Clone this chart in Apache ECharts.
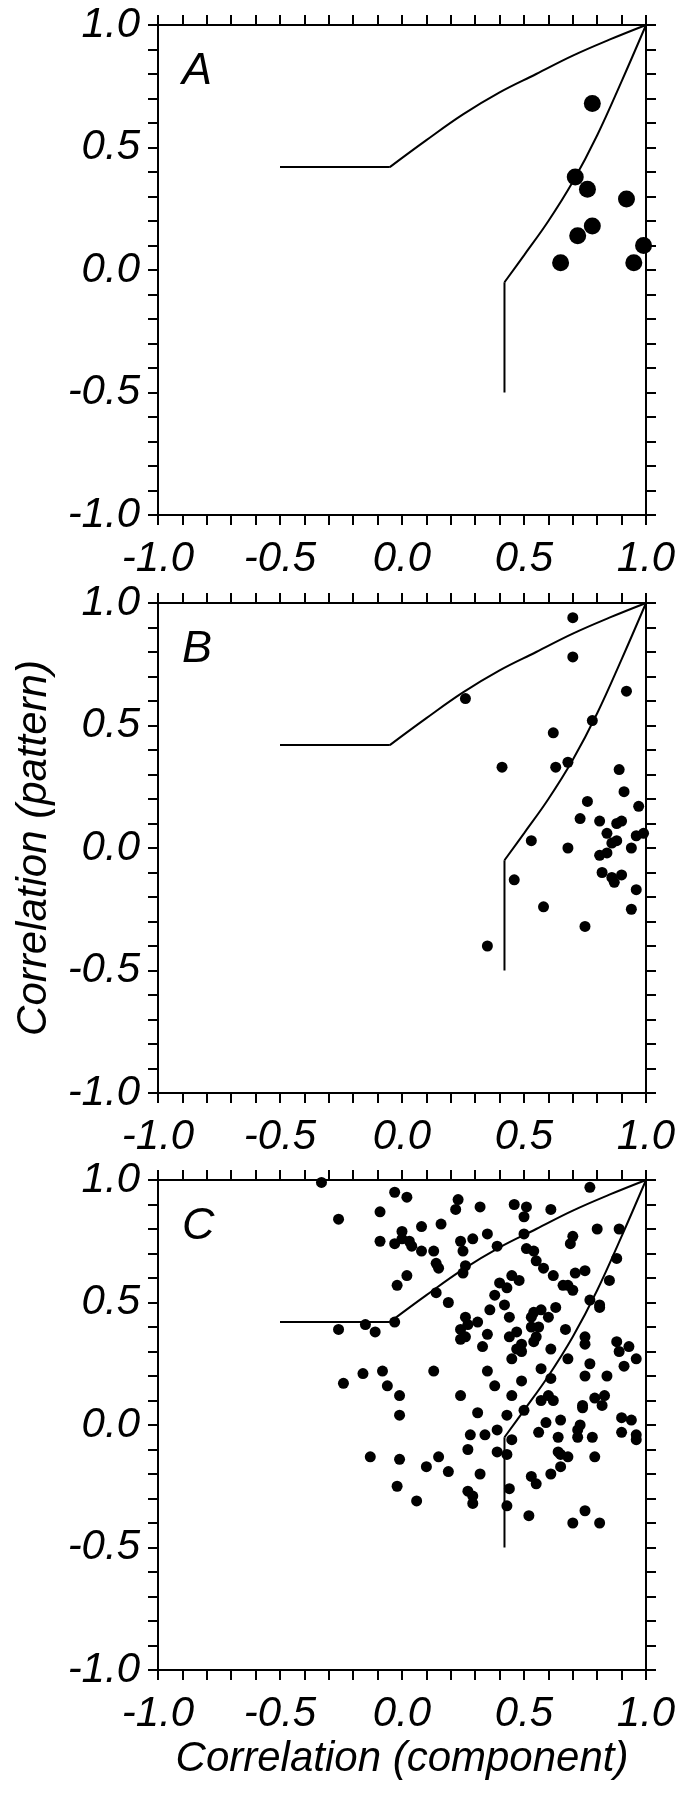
<!DOCTYPE html>
<html>
<head>
<meta charset="utf-8">
<script src="https://cdn.jsdelivr.net/npm/echarts@6/dist/echarts.min.js"></script>
<style>
  html, body { margin: 0; padding: 0; background: #fff; }
  #chart { width: 690px; height: 1800px; }
</style>
</head>
<body>
<div id="chart"></div>
<script>
// panel labels
const panelNames = ["A", "B", "C"];

// bounding lines (same in every panel): straight legs + curved parts
const upperFlat = [[-0.5, 0.42], [-0.05, 0.42]];
const upperCurve = [[-0.05, 0.42], [0.1, 0.53], [0.25, 0.635], [0.4, 0.725],
  [0.55, 0.80], [0.7, 0.875], [0.85, 0.94], [1, 1]];
const lowerFlat = [[0.42, -0.5], [0.42, -0.05]];
const lowerCurve = [[0.42, -0.05], [0.5, 0.06], [0.6, 0.2], [0.7, 0.36],
  [0.8, 0.55], [0.9, 0.77], [1, 1]];

// points: [component, pattern]
const pointsA = [[0.78, 0.68], [0.71, 0.38], [0.76, 0.33], [0.92, 0.29], [0.78, 0.18],
  [0.72, 0.14], [0.65, 0.03], [0.95, 0.03], [0.99, 0.10]];

const pointsB = [[0.70, 0.94], [0.70, 0.78], [0.26, 0.61], [0.92, 0.64], [0.78, 0.52],
  [0.62, 0.47], [0.41, 0.33], [0.63, 0.33], [0.68, 0.35], [0.89, 0.32], [0.91, 0.23],
  [0.76, 0.19], [0.97, 0.17], [0.73, 0.12], [0.81, 0.11], [0.88, 0.10], [0.90, 0.11],
  [0.84, 0.06], [0.96, 0.05], [0.99, 0.06], [0.53, 0.03], [0.88, 0.03], [0.86, 0.02],
  [0.68, 0.00], [0.94, 0.00], [0.81, -0.03], [0.84, -0.02], [0.82, -0.10], [0.90, -0.11],
  [0.86, -0.12], [0.87, -0.14], [0.46, -0.13], [0.96, -0.17], [0.58, -0.24], [0.94, -0.25],
  [0.75, -0.32], [0.35, -0.40]];

const pointsC = [[-0.33, 0.99], [0.77, 0.97], [-0.03, 0.95], [0.02, 0.93], [0.23, 0.92],
  [0.22, 0.88], [0.32, 0.89], [0.46, 0.90], [0.51, 0.89], [0.50, 0.85], [0.61, 0.88],
  [-0.09, 0.87], [-0.26, 0.84], [0.16, 0.82], [0.08, 0.81], [0.00, 0.79], [0.80, 0.80],
  [0.89, 0.80], [0.35, 0.78], [0.50, 0.78], [-0.09, 0.75], [-0.03, 0.74], [0.00, 0.76],
  [0.03, 0.75], [0.04, 0.73], [0.08, 0.71], [0.24, 0.75], [0.29, 0.76], [0.25, 0.71],
  [0.39, 0.73], [0.13, 0.71], [0.51, 0.72], [0.54, 0.71], [0.70, 0.77], [0.69, 0.74],
  [0.88, 0.68], [0.14, 0.66], [0.15, 0.64], [0.55, 0.67], [0.26, 0.65], [0.25, 0.62],
  [0.58, 0.64], [0.71, 0.62], [0.75, 0.63], [0.62, 0.61], [0.85, 0.59], [0.02, 0.61],
  [-0.02, 0.57], [0.45, 0.61], [0.48, 0.59], [0.40, 0.58], [0.43, 0.56], [0.66, 0.57],
  [0.68, 0.57], [0.70, 0.55], [0.38, 0.53], [0.14, 0.54], [0.77, 0.51], [0.81, 0.49],
  [0.81, 0.48], [0.19, 0.50], [0.42, 0.49], [0.36, 0.47], [0.63, 0.48], [0.57, 0.47],
  [0.54, 0.46], [0.60, 0.44], [0.53, 0.44], [0.44, 0.44], [0.26, 0.44], [-0.03, 0.42],
  [-0.15, 0.41], [0.27, 0.41], [0.31, 0.42], [-0.26, 0.39], [-0.11, 0.38], [0.24, 0.39],
  [0.56, 0.40], [0.53, 0.40], [0.35, 0.37], [0.47, 0.38], [0.67, 0.39], [0.75, 0.36],
  [0.24, 0.35], [0.26, 0.36], [0.44, 0.36], [0.55, 0.36], [0.54, 0.34], [0.49, 0.33],
  [0.33, 0.32], [0.47, 0.31], [0.49, 0.30], [0.61, 0.31], [0.88, 0.34], [0.93, 0.32],
  [0.89, 0.30], [0.75, 0.33], [0.45, 0.27], [0.68, 0.27], [0.96, 0.27], [0.57, 0.23],
  [0.77, 0.25], [0.91, 0.24], [0.13, 0.22], [0.35, 0.22], [-0.08, 0.22], [-0.16, 0.21],
  [0.75, 0.20], [0.84, 0.20], [0.61, 0.19], [-0.24, 0.17], [-0.06, 0.16], [0.38, 0.16],
  [0.49, 0.18], [-0.01, 0.12], [0.24, 0.12], [0.45, 0.12], [0.60, 0.12], [0.62, 0.10],
  [0.83, 0.12], [0.79, 0.11], [0.74, 0.08], [0.82, 0.08], [0.57, 0.10], [0.74, 0.07],
  [-0.01, 0.04], [0.31, 0.05], [0.43, 0.04], [0.50, 0.06], [0.59, 0.01], [0.65, 0.02],
  [0.73, 0.00], [0.90, 0.03], [0.94, 0.02], [0.28, -0.04], [0.34, -0.04], [0.39, -0.02],
  [0.56, -0.03], [0.72, -0.02], [0.72, -0.05], [0.78, -0.05], [0.90, -0.03], [0.96, -0.04],
  [0.96, -0.06], [0.45, -0.06], [0.64, -0.05], [0.27, -0.10], [0.39, -0.11], [0.43, -0.12],
  [0.64, -0.11], [0.65, -0.12], [0.68, -0.13], [0.79, -0.13], [-0.13, -0.13], [-0.01, -0.14],
  [0.10, -0.17], [0.15, -0.13], [0.19, -0.19], [0.32, -0.20], [0.61, -0.20], [0.65, -0.17],
  [0.53, -0.21], [0.55, -0.24], [-0.02, -0.25], [0.44, -0.26], [0.27, -0.27], [0.29, -0.29],
  [0.29, -0.32], [0.06, -0.31], [0.43, -0.33], [0.52, -0.37], [0.75, -0.35], [0.70, -0.40],
  [0.81, -0.40]];

const allPoints = [pointsA, pointsB, pointsC];
const dotSize = [17, 11, 11];
const gridTops = [25, 603, 1180];
const FONT = "'Liberation Sans', Arial, Helvetica, sans-serif";

const black = { color: "#000", width: 2 };

function makeAxis(i, position, withLabels) {
  return {
    type: "value",
    gridIndex: i,
    position: position,
    min: -1,
    max: 1,
    interval: 0.5,
    axisLine: { show: true, onZero: false, lineStyle: black },
    axisTick: { show: true, inside: false, length: 10, lineStyle: black },
    minorTick: { show: true, splitNumber: 5, length: 10, lineStyle: black },
    splitLine: { show: false },
    minorSplitLine: { show: false },
    axisLabel: {
      show: withLabels,
      showMinLabel: true,
      showMaxLabel: true,
      color: "#000",
      fontSize: 42,
      fontStyle: "italic",
      fontFamily: FONT,
      margin: position === "left" ? 18 : 23,
      formatter: (v) => (Math.abs(v) < 1e-9 ? "0.0" : v.toFixed(1)),
    },
  };
}

function lineSeries(idx, data, smooth) {
  return {
    type: "line", xAxisIndex: idx, yAxisIndex: idx, data: data,
    symbol: "none", smooth: smooth, lineStyle: black, silent: true,
  };
}

const grids = [];
const xAxes = [];
const yAxes = [];
const series = [];
const graphics = [];

gridTops.forEach((top, i) => {
  grids.push({ left: 158, width: 488, top: top, height: 490, outerBoundsMode: "none" });
  xAxes.push(makeAxis(i, "bottom", true));
  xAxes.push(makeAxis(i, "top", false));
  yAxes.push(makeAxis(i, "left", true));
  yAxes.push(makeAxis(i, "right", false));

  const idx = i * 2;
  series.push(lineSeries(idx, upperFlat, false));
  series.push(lineSeries(idx, upperCurve, 0.4));
  series.push(lineSeries(idx, lowerFlat, false));
  series.push(lineSeries(idx, lowerCurve, 0.4));
  series.push({
    type: "scatter", xAxisIndex: idx, yAxisIndex: idx, data: allPoints[i],
    symbol: "circle", symbolSize: dotSize[i], clip: false,
    itemStyle: { color: "#000", opacity: 1 },
  });

  graphics.push({
    type: "text", left: 182, top: top + 24,
    style: { text: panelNames[i], fill: "#000", font: "italic 45px " + FONT },
  });
});

// axis titles: y on the middle panel, x on the bottom panel
yAxes[2].name = "Correlation (pattern)";
yAxes[2].nameLocation = "middle";
yAxes[2].nameGap = 103;
yAxes[2].nameTextStyle = { color: "#000", fontSize: 42, fontStyle: "italic", fontFamily: FONT };

xAxes[4].name = "Correlation (component)";
xAxes[4].nameLocation = "middle";
xAxes[4].nameGap = 68;
xAxes[4].nameTextStyle = { color: "#000", fontSize: 42, fontStyle: "italic", fontFamily: FONT };

const myChart = echarts.init(document.getElementById("chart"), null, { renderer: "canvas" });
myChart.setOption({
  animation: false,
  backgroundColor: "#fff",
  grid: grids,
  xAxis: xAxes,
  yAxis: yAxes,
  series: series,
  graphic: graphics,
});
</script>
</body>
</html>
